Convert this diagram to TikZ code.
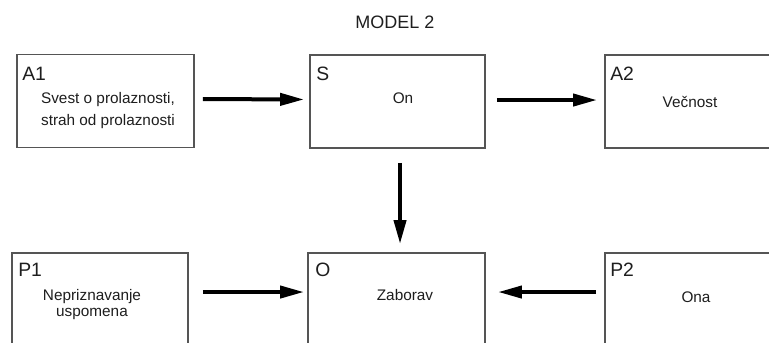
\documentclass[tikz,border=0pt]{standalone}
\usepackage{fontspec}
\setmainfont{Liberation Sans}
\usetikzlibrary{arrows.meta}
\definecolor{boxline}{HTML}{555555}
\definecolor{ink}{HTML}{1E1E1E}
\begin{document}
\begin{tikzpicture}[x=0.75pt,y=-0.75pt,
  panel/.style={draw=boxline,line width=1.4pt,fill=white,inner sep=0pt,
    minimum height=#1*0.75pt},
  panel/.default=93,
  tag/.style={anchor=base west,inner sep=0pt,text=ink,font=\fontsize{14.5pt}{17pt}\selectfont},
  body/.style={anchor=base,inner sep=0pt,text=ink,align=center},
  flow/.style={draw=black,line width=3pt,-{Triangle[length=18pt,width=9pt]}}]
\useasboundingbox (0,0) rectangle (769,343);
\clip (0,0) rectangle (769,343);

% title
\node[anchor=base,inner sep=0pt,text=ink,font=\fontsize{13.5pt}{16pt}\selectfont] (title) at (395,28) {MODEL 2};

% upper row
\node[panel,minimum width=177*0.75pt] (A1) at (105.5,101) {};
\node[panel,minimum width=175*0.75pt] (S)  at (397.5,101.5) {};
\node[panel,minimum width=195*0.75pt] (A2) at (702.5,101.5) {};

% lower row (runs past the bottom edge)
\node[panel=97,minimum width=176*0.75pt] (P1) at (100,301.5) {};
\node[panel=97,minimum width=177*0.75pt] (O)  at (396.5,301.5) {};
\node[panel=97,minimum width=195*0.75pt] (P2) at (702.5,301.5) {};

% corner tags
\node[tag] (tA1) at (22,80) {A1};
\node[tag] (tS)  at (316,80) {S};
\node[tag] (tA2) at (610,80) {A2};
\node[tag] (tP1) at (18,276) {P1};
\node[tag] (tO)  at (315,276) {O};
\node[tag] (tP2) at (610,276) {P2};

% contents (base anchor sits on the last line)
\node[body,font=\fontsize{11.5pt}{16.5pt}\selectfont] (xA1) at (108,125) {Svest o prolaznosti,\\strah od prolaznosti};
\node[body,font=\fontsize{11.5pt}{13pt}\selectfont] (xS)  at (403,103) {On};
\node[body,font=\fontsize{11.5pt}{13pt}\selectfont] (xA2) at (690,107) {Večnost};
\node[body,font=\fontsize{11.5pt}{11.5pt}\selectfont] (xP1) at (92,316) {Nepriznavanje\\uspomena};
\node[body,font=\fontsize{11.5pt}{13pt}\selectfont] (xO)  at (405,300) {Zaborav};
\node[body,font=\fontsize{11.5pt}{13pt}\selectfont] (xP2) at (696,302) {Ona};

% connectors
\draw[flow,shorten <=6pt,shorten >=3.75pt] ([yshift=1.5pt]A1.east) -- ([yshift=1.5pt]S.west);
\draw[flow,shorten <=8.25pt,shorten >=5.25pt] ([yshift=1.1pt]S.east) -- ([yshift=1.1pt]A2.west);
\draw[flow,shorten <=10.5pt,shorten >=6pt] ([xshift=1.9pt]S.south) -- ([xshift=1.9pt]S.south |- O.north);
\draw[flow,shorten <=10.5pt,shorten >=2.25pt] ([yshift=7.1pt]P1.east) -- ([yshift=7.1pt]O.west);
\draw[flow,shorten <=6pt,shorten >=9pt] ([yshift=7.1pt]P2.west) -- ([yshift=7.1pt]O.east);
\end{tikzpicture}
\end{document}
